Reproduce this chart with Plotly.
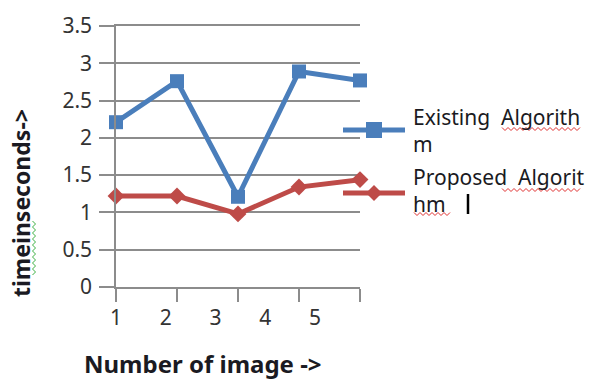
import plotly.graph_objects as go

images = [1, 2, 3, 4, 5]
tick_labels = ["1", "2", "3", "4", "5"]
existing = [2.21, 2.76, 1.21, 2.89, 2.77]
proposed = [1.22, 1.22, 0.98, 1.34, 1.44]
y_ticks = [0, 0.5, 1, 1.5, 2, 2.5, 3, 3.5]
y_tick_text = ["0", "0.5", "1", "1.5", "2", "2.5", "3", "3.5"]

BLUE = "#4A7EBB"
RED = "#BE4B48"
GRID = "#8C8C8C"
FONT = "Noto Sans"
TXT = "#1a1a22"

W, H = 595, 380
L, R, T, B = 116, 360, 26, 287


def px(x):
    return (x - L) / (R - L)


def py(y):
    return (B - y) / (B - T)


def wavy(x0, x1, y, amp=1.5, step=3):
    pts = []
    x = x0
    i = 0
    while x <= x1:
        yy = y + (amp if i % 2 else -amp)
        pts.append(f"{px(x)},{py(yy)}")
        x += step
        i += 1
    return "M" + " L".join(pts)


def wavy_v(x, y0, y1, amp=1.5, step=3):
    pts = []
    y = y0
    i = 0
    while y <= y1:
        xx = x + (amp if i % 2 else -amp)
        pts.append(f"{px(xx)},{py(y)}")
        y += step
        i += 1
    return "M" + " L".join(pts)


fig = go.Figure()
fig.add_trace(go.Scatter(x=images, y=existing, mode="lines+markers",
                         line=dict(color=BLUE, width=5),
                         marker=dict(symbol="square", size=14, color=BLUE),
                         cliponaxis=False, showlegend=False, name="Existing Algorithm"))
fig.add_trace(go.Scatter(x=images, y=proposed, mode="lines+markers",
                         line=dict(color=RED, width=5),
                         marker=dict(symbol="diamond", size=13, color=RED),
                         cliponaxis=False, showlegend=False, name="Proposed Algorithm"))
# invisible trace to carry the shifted tick labels
fig.add_trace(go.Scatter(x=images, y=[None] * 5, xaxis="x2", showlegend=False,
                         hoverinfo="skip"))

shapes = []
annotations = []

# legend (decoration)
legend = [("Existing  Algorith<br>m", BLUE, 130, 130, "square"),
          ("Proposed  Algorit<br>hm", RED, 193, 190, "diamond")]
for label, col, ly, ty, sym in legend:
    shapes.append(dict(type="line", xref="paper", yref="paper",
                       x0=px(343), x1=px(405), y0=py(ly), y1=py(ly),
                       line=dict(color=col, width=5)))
    cx, cy = 374, ly
    d = 8
    if sym == "square":
        path = f"M{px(cx-d)},{py(cy-d)} L{px(cx+d)},{py(cy-d)} L{px(cx+d)},{py(cy+d)} L{px(cx-d)},{py(cy+d)} Z"
    else:
        path = f"M{px(cx)},{py(cy-d)} L{px(cx+d)},{py(cy)} L{px(cx)},{py(cy+d)} L{px(cx-d)},{py(cy)} Z"
    shapes.append(dict(type="path", xref="paper", yref="paper", path=path,
                       fillcolor=col, line=dict(color=col, width=0)))
    annotations.append(dict(xref="paper", yref="paper", x=px(411), y=py(ty),
                            text=label, showarrow=False, xanchor="left", yanchor="middle",
                            align="left",
                            font=dict(family=FONT, size=21, color=TXT)))

# text cursor
shapes.append(dict(type="line", xref="paper", yref="paper",
                   x0=px(468), x1=px(468), y0=py(194), y1=py(214),
                   line=dict(color="black", width=2.5)))
# spell-check squiggles
for x0, x1, y in [(502, 580, 129), (502, 582, 190), (414, 452, 214)]:
    shapes.append(dict(type="path", xref="paper", yref="paper", path=wavy(x0, x1, y),
                       line=dict(color="#E03030", width=1)))
shapes.append(dict(type="path", xref="paper", yref="paper", path=wavy_v(34, 221, 277),
                   line=dict(color="#3CB043", width=1)))

# axis titles
annotations.append(dict(xref="paper", yref="paper", x=px(21), y=py(203),
                        text="<b>timeinseconds-></b>", textangle=-90, showarrow=False,
                        xanchor="center", yanchor="middle",
                        font=dict(family=FONT, size=23, color=TXT)))
annotations.append(dict(xref="paper", yref="paper", x=px(203), y=py(363),
                        text="<b>Number of image -></b>", showarrow=False,
                        xanchor="center", yanchor="middle",
                        font=dict(family=FONT, size=24, color=TXT)))

fig.update_layout(
    width=W, height=H,
    margin=dict(l=L, r=W - R, t=T, b=H - B, pad=0),
    paper_bgcolor="white", plot_bgcolor="white",
    shapes=shapes, annotations=annotations,
    xaxis=dict(range=[1, 5], tickvals=images, ticks="outside", ticklen=13,
               tickcolor=GRID, tickwidth=1.5, showticklabels=False,
               showgrid=False, zeroline=False, showline=True, mirror=True,
               linecolor=GRID, linewidth=1.5),
    xaxis2=dict(overlaying="x", range=[1, 1 + 244 / 49.75], tickvals=images,
                ticktext=tick_labels, ticks="", showgrid=False, zeroline=False,
                showline=False, side="bottom", ticklabelstandoff=16,
                tickfont=dict(family=FONT, size=21, color="#333333")),
    yaxis=dict(range=[0, 3.5], tickvals=y_ticks, ticktext=y_tick_text,
               ticks="outside", ticklen=15, tickcolor=GRID, tickwidth=1.5,
               showgrid=True, gridcolor=GRID, gridwidth=1.5,
               zeroline=False, showline=True, linecolor=GRID, linewidth=1.5,
               ticklabelstandoff=3,
               tickfont=dict(family=FONT, size=21, color="#333333")),
)

fig.write_html("out.html")
